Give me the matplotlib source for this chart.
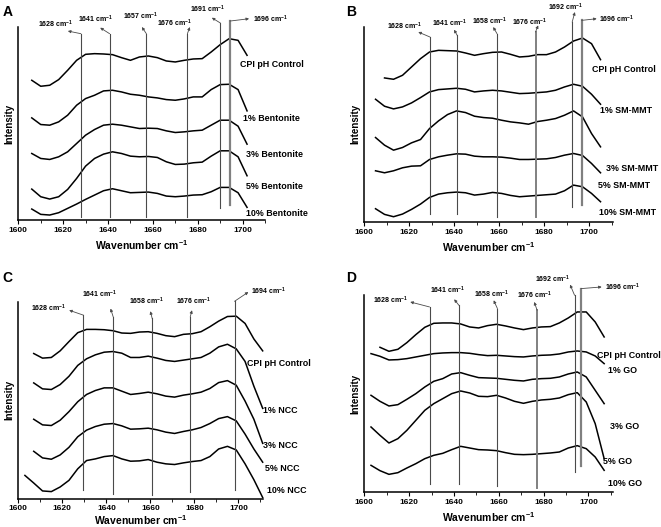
import matplotlib.pyplot as plt
import numpy as np

plt.rcParams['font.family'] = ['Liberation Sans', 'DejaVu Sans']
plt.rcParams['font.weight'] = 'bold'
plt.rcParams['mathtext.fontset'] = 'custom'
plt.rcParams['mathtext.rm'] = 'Liberation Sans'
plt.rcParams['mathtext.bf'] = 'Liberation Sans:bold'

nan = np.nan

# ---- panel A : bentonite ----
a_names = ['CPI pH Control', '1% Bentonite', '3% Bentonite', '5% Bentonite', '10% Bentonite']
a_wn = [1606, 1610, 1614, 1618, 1622, 1626, 1630, 1634, 1638, 1642, 1646, 1650, 1654,
        1658, 1662, 1666, 1670, 1674, 1678, 1682, 1686, 1690, 1694, 1698, 1702]
a_ctrl = [5.60, 5.42, 5.45, 5.62, 5.90, 6.20, 6.38, 6.40, 6.39, 6.37, 6.28, 6.20, 6.30,
          6.33, 6.28, 6.18, 6.15, 6.20, 6.24, 6.25, 6.45, 6.67, 6.85, 6.80, 6.35]
a_1 = [4.47, 4.27, 4.25, 4.35, 4.55, 4.85, 5.05, 5.15, 5.28, 5.30, 5.25, 5.18, 5.15,
       5.10, 5.07, 5.02, 5.00, 5.04, 5.10, 5.10, 5.32, 5.47, 5.48, 5.32, 4.68]
a_3 = [3.40, 3.25, 3.22, 3.30, 3.45, 3.70, 3.95, 4.12, 4.25, 4.28, 4.25, 4.20, 4.15,
       4.16, 4.15, 4.08, 4.03, 4.05, 4.08, 4.10, 4.25, 4.40, 4.40, 4.22, 3.68]
a_5 = [2.33, 2.10, 2.03, 2.10, 2.32, 2.65, 3.02, 3.25, 3.38, 3.45, 3.40, 3.32, 3.30,
       3.31, 3.28, 3.15, 3.07, 3.08, 3.12, 3.14, 3.32, 3.48, 3.48, 3.30, 2.73]
a_10 = [1.73, 1.57, 1.55, 1.62, 1.75, 1.88, 2.02, 2.15, 2.28, 2.34, 2.28, 2.22, 2.23,
        2.24, 2.20, 2.12, 2.10, 2.12, 2.15, 2.16, 2.25, 2.38, 2.38, 2.22, 1.78]
a_peaks = [1628, 1641, 1657, 1676, 1691, 1696]
a_peak_x = [1627.9, 1640.7, 1657.1, 1675.4, 1690.1, 1694.4]

# ---- panel B : SM-MMT ----
b_names = ['CPI pH Control', '1% SM-MMT', '3% SM-MMT', '5% SM-MMT', '10% SM-MMT']
b_wn = [1605, 1609, 1613, 1617, 1621, 1625, 1629, 1633, 1637, 1641, 1645, 1649, 1653,
        1657, 1661, 1665, 1669, 1673, 1677, 1681, 1685, 1689, 1693, 1697, 1701, 1705]
b_ctrl = [nan, 5.67, 5.63, 5.75, 6.00, 6.25, 6.45, 6.50, 6.49, 6.48, 6.42, 6.35, 6.40,
          6.44, 6.45, 6.38, 6.30, 6.32, 6.37, 6.37, 6.45, 6.60, 6.78, 6.87, 6.70, 6.22]
b_1 = [5.03, 4.82, 4.74, 4.80, 4.92, 5.08, 5.25, 5.32, 5.34, 5.36, 5.33, 5.25, 5.28,
       5.30, 5.28, 5.24, 5.20, 5.21, 5.23, 5.25, 5.30, 5.40, 5.48, 5.42, 5.18, 4.88]
b_3 = [3.88, 3.65, 3.50, 3.58, 3.72, 3.82, 4.15, 4.38, 4.57, 4.68, 4.63, 4.52, 4.48,
       4.46, 4.40, 4.35, 4.32, 4.28, 4.36, 4.40, 4.45, 4.55, 4.68, 4.50, 4.00, 3.60]
b_5 = [2.88, 2.82, 2.88, 2.97, 3.02, 3.03, 3.22, 3.30, 3.35, 3.39, 3.38, 3.32, 3.30,
       3.30, 3.29, 3.26, 3.22, 3.22, 3.23, 3.24, 3.28, 3.35, 3.40, 3.34, 3.10, 2.82]
b_10 = [1.74, 1.57, 1.50, 1.58, 1.72, 1.88, 2.08, 2.18, 2.22, 2.24, 2.22, 2.15, 2.18,
        2.23, 2.20, 2.14, 2.10, 2.12, 2.14, 2.16, 2.18, 2.28, 2.45, 2.40, 2.20, 1.95]
b_peaks = [1628, 1641, 1658, 1676, 1692, 1696]
b_peak_x = [1629.2, 1641.3, 1659.0, 1676.1, 1692.4, 1696.6]

# ---- panel C : NCC ----
c_names = ['CPI pH Control', '1% NCC', '3% NCC', '5% NCC', '10% NCC']
c_wn = [1603, 1607, 1611, 1615, 1619, 1623, 1627, 1631, 1635, 1639, 1643, 1647, 1651, 1655,
        1659, 1663, 1667, 1671, 1675, 1679, 1683, 1687, 1691, 1695, 1699, 1703, 1707, 1711]
c_ctrl = [nan, 5.24, 5.10, 5.12, 5.32, 5.60, 5.87, 5.97, 5.97, 5.96, 5.93, 5.86, 5.85, 5.89,
          5.90, 5.85, 5.78, 5.75, 5.82, 5.84, 5.90, 6.05, 6.22, 6.36, 6.37, 6.15, 5.68, 5.32]
c_1 = [nan, 4.35, 4.17, 4.15, 4.30, 4.55, 4.88, 5.08, 5.20, 5.28, 5.30, 5.25, 5.12, 5.12,
       5.16, 5.10, 5.03, 5.00, 5.04, 5.08, 5.12, 5.25, 5.44, 5.52, 5.38, 5.00, 4.25, 3.58]
c_3 = [nan, 3.25, 3.08, 3.06, 3.22, 3.48, 3.78, 4.00, 4.12, 4.20, 4.20, 4.10, 4.00, 4.03,
       4.07, 4.02, 3.95, 3.92, 3.98, 4.02, 4.07, 4.18, 4.36, 4.42, 4.28, 3.80, 3.25, 2.52]
c_5 = [nan, 2.28, 2.08, 2.04, 2.17, 2.40, 2.72, 2.92, 3.03, 3.10, 3.12, 3.05, 2.95, 2.96,
       2.98, 2.93, 2.86, 2.82, 2.88, 2.93, 3.00, 3.12, 3.27, 3.33, 3.20, 2.80, 2.35, 1.95]
c_10 = [1.55, 1.32, 1.08, 1.06, 1.20, 1.40, 1.75, 2.00, 2.05, 2.12, 2.15, 2.05, 1.98, 1.99,
        2.03, 1.95, 1.90, 1.88, 1.93, 1.97, 2.00, 2.12, 2.35, 2.43, 2.32, 1.90, 1.42, 0.88]
c_peaks = [1628, 1641, 1658, 1676, 1694]
c_peak_x = [1629.6, 1643.1, 1660.8, 1678.1, 1698.2]

# ---- panel D : GO ----
d_names = ['CPI pH Control', '1% GO', '3% GO', '5% GO', '10% GO']
d_wn = [1603, 1607, 1611, 1615, 1619, 1623, 1627, 1631, 1635, 1639, 1643, 1647, 1651, 1655,
        1659, 1663, 1667, 1671, 1675, 1679, 1683, 1687, 1691, 1695, 1699, 1703, 1707]
d_ctrl = [nan, 5.44, 5.32, 5.38, 5.58, 5.82, 6.04, 6.16, 6.17, 6.17, 6.14, 6.05, 6.02, 6.09,
          6.13, 6.08, 6.02, 5.97, 6.02, 6.05, 6.06, 6.17, 6.32, 6.50, 6.50, 6.20, 5.75]
d_1 = [5.25, 5.17, 5.06, 5.07, 5.10, 5.15, 5.20, 5.25, 5.27, 5.28, 5.28, 5.26, 5.22, 5.19,
       5.20, 5.18, 5.16, 5.15, 5.18, 5.20, 5.21, 5.24, 5.30, 5.33, 5.30, 5.18, 4.95]
d_3 = [4.00, 3.82, 3.68, 3.72, 3.88, 4.05, 4.25, 4.42, 4.50, 4.64, 4.68, 4.60, 4.53, 4.52,
       4.51, 4.48, 4.45, 4.43, 4.48, 4.50, 4.51, 4.55, 4.64, 4.70, 4.55, 4.15, 3.75]
d_5 = [3.05, 2.80, 2.57, 2.70, 2.95, 3.25, 3.55, 3.75, 3.90, 4.05, 4.13, 4.07, 3.97, 3.96,
       4.00, 3.92, 3.82, 3.76, 3.82, 3.86, 3.88, 3.92, 4.02, 4.08, 3.80, 3.15, 2.10]
d_10 = [1.90, 1.74, 1.63, 1.68, 1.82, 1.95, 2.10, 2.20, 2.26, 2.37, 2.47, 2.42, 2.37, 2.36,
        2.34, 2.28, 2.23, 2.22, 2.23, 2.25, 2.27, 2.30, 2.42, 2.49, 2.40, 2.15, 1.75]
d_peaks = [1628, 1641, 1658, 1676, 1692, 1696]
d_peak_x = [1629.1, 1642.2, 1659.4, 1677.1, 1693.8, 1696.7]

# layout: axes rect, limits, marker-line extents, arrow/label placement
panels = [
    dict(letter='A', rect=[0.0277, 0.5825, 0.3732, 0.3662], xlim=(1600, 1708.8), ylim=(1.40, 7.20),
         wn=a_wn, curves=[a_ctrl, a_1, a_3, a_5, a_10], names=a_names, xpad=3,
         name_pos=[(1699, 6.08), (1700, 4.45), (1701.5, 3.38), (1701.5, 2.42), (1701.5, 1.60)],
         peaks=a_peaks, peak_x=a_peak_x,
         top=[7.00, 7.00, 7.00, 7.00, 7.32, 7.38], bot=[1.48, 1.48, 1.48, 1.48, 1.75, 1.85],
         lw=[0.8, 0.8, 0.8, 0.8, 0.8, 1.6],
         arrow=[(1622.1, 7.08), (1636.5, 7.18), (1655.1, 7.20), (1676.5, 7.20), (1686.3, 7.48), (1702.9, 7.45)],
         text=[(1616.5, 7.27, 'center'), (1634.6, 7.42, 'center'), (1654.4, 7.52, 'center'),
               (1669.9, 7.32, 'center'), (1684.6, 7.72, 'center'), (1704.5, 7.42, 'left')]),
    dict(letter='B', rect=[0.5511, 0.5793, 0.3758, 0.3694], xlim=(1600, 1710.4), ylim=(1.35, 7.20),
         wn=b_wn, curves=[b_ctrl, b_1, b_3, b_5, b_10], names=b_names, xpad=3,
         name_pos=[(1701, 5.92), (1704.7, 4.70), (1707.4, 2.95), (1704, 2.45), (1704.4, 1.64)],
         peaks=b_peaks, peak_x=b_peak_x,
         top=[6.90, 6.95, 7.00, 7.05, 7.35, 7.40], bot=[1.57, 1.57, 1.50, 1.48, 1.80, 1.85],
         lw=[0.8, 0.8, 0.8, 1.4, 0.8, 1.6],
         arrow=[(1624.0, 7.05), (1639.9, 7.12), (1657.3, 7.20), (1677.3, 7.25), (1693.6, 7.65), (1703.3, 7.45)],
         text=[(1618.1, 7.22, 'center'), (1638.1, 7.30, 'center'), (1655.6, 7.38, 'center'),
               (1673.3, 7.35, 'center'), (1689.5, 7.78, 'center'), (1704.5, 7.42, 'left')]),
    dict(letter='C', rect=[0.0277, 0.0540, 0.3707, 0.3730], xlim=(1600.5, 1711.3), ylim=(0.85, 6.80),
         wn=c_wn, curves=[c_ctrl, c_1, c_3, c_5, c_10], names=c_names, xpad=0.5,
         name_pos=[(1703.8, 4.95), (1711.3, 3.53), (1711.3, 2.45), (1712, 1.75), (1712.8, 1.10)],
         peaks=c_peaks, peak_x=c_peak_x,
         top=[6.40, 6.35, 6.30, 6.35, 6.82], bot=[1.10, 1.00, 0.95, 1.05, 1.10],
         lw=[0.8, 0.8, 0.8, 0.8, 0.8],
         arrow=[(1623.1, 6.55), (1641.9, 6.60), (1660.0, 6.52), (1678.9, 6.55), (1704.5, 7.10)],
         text=[(1613.6, 6.62, 'center'), (1637.0, 7.02, 'center'), (1658.1, 6.82, 'center'),
               (1679.6, 6.82, 'center'), (1705.6, 7.12, 'left')]),
    dict(letter='D', rect=[0.5511, 0.0664, 0.3758, 0.3733], xlim=(1600.1, 1710.8), ylim=(1.10, 7.00),
         wn=d_wn, curves=[d_ctrl, d_1, d_3, d_5, d_10], names=d_names, xpad=3,
         name_pos=[(1703.7, 5.20), (1708.9, 4.75), (1709.7, 3.05), (1706.7, 2.00), (1708.9, 1.35)],
         peaks=d_peaks, peak_x=d_peak_x,
         top=[6.65, 6.70, 6.60, 6.55, 7.00, 7.20], bot=[1.35, 1.35, 1.28, 1.22, 1.70, 1.88],
         lw=[0.8, 0.8, 0.8, 1.4, 0.8, 1.6],
         arrow=[(1620.5, 6.80), (1640.1, 6.88), (1657.7, 6.85), (1675.8, 6.80), (1691.8, 7.32), (1705.9, 7.25)],
         text=[(1611.6, 6.85, 'center'), (1637.1, 7.15, 'center'), (1656.9, 7.03, 'center'),
               (1675.8, 7.00, 'center'), (1684.1, 7.48, 'center'), (1707.4, 7.25, 'left')]),
]

fig = plt.figure(figsize=(6.61, 5.27), dpi=100)

for p in panels:
    ax = fig.add_axes(p['rect'])
    for y in p['curves']:
        ax.plot(p['wn'], y, color='black', lw=1.1, clip_on=False)
    for name, (tx, ty) in zip(p['names'], p['name_pos']):
        ax.text(tx, ty, name, fontsize=6.4, fontweight='bold', ha='left', va='center', clip_on=False)
    gray = '#4a4a4a'
    for i, pk in enumerate(p['peaks']):
        x = p['peak_x'][i]
        ax.plot([x, x], [p['bot'][i], p['top'][i]], color=gray if p['lw'][i] < 1 else '#808080',
                lw=p['lw'][i], clip_on=False)
        ax.annotate('', xy=p['arrow'][i], xytext=(x, p['top'][i]), annotation_clip=False,
                    arrowprops=dict(arrowstyle='-|>', color=gray, lw=0.6, mutation_scale=4,
                                    shrinkA=0, shrinkB=0))
        tx, ty, ha = p['text'][i]
        ax.text(tx, ty, f'{pk} cm$^{{\\mathbf{{-1}}}}$', fontsize=5, fontweight='bold',
                ha=ha, va='center', clip_on=False)
    ax.set_xlim(*p['xlim'])
    ax.set_ylim(*p['ylim'])
    ax.set_xticks([1600, 1620, 1640, 1660, 1680, 1700])
    ax.set_xticks(np.arange(1610, 1711, 20), minor=True)
    ax.tick_params(axis='x', which='major', length=3, width=0.8, labelsize=6, pad=2)
    ax.tick_params(axis='x', which='minor', length=2, width=0.6)
    ax.set_yticks([])
    for s in ['top', 'right']:
        ax.spines[s].set_visible(False)
    for s in ['left', 'bottom']:
        ax.spines[s].set_linewidth(1.1)
    ax.set_xlabel('Wavenumber cm$^{\\mathbf{-1}}$', fontsize=7.5, fontweight='bold', labelpad=p['xpad'])
    ax.set_ylabel('Intensity', fontsize=7, fontweight='bold', labelpad=3)
    ax.patch.set_alpha(0)

fig.text(0.004, 0.99, 'A', fontsize=10, fontweight='bold', va='top')
fig.text(0.523, 0.99, 'B', fontsize=10, fontweight='bold', va='top')
fig.text(0.004, 0.485, 'C', fontsize=10, fontweight='bold', va='top')
fig.text(0.524, 0.485, 'D', fontsize=10, fontweight='bold', va='top')

fig.savefig('out.png', dpi=100)
